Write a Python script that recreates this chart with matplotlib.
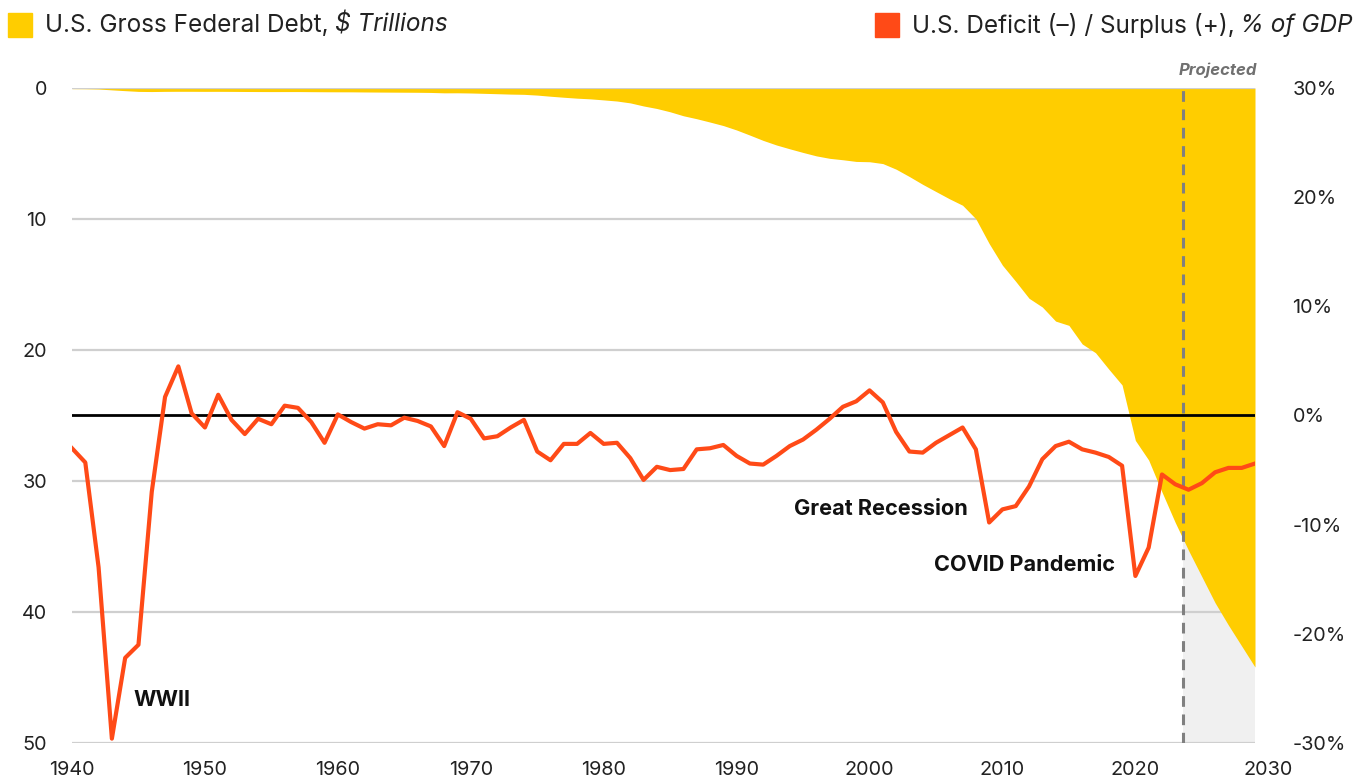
import matplotlib
matplotlib.use("Agg")
import matplotlib.pyplot as plt
import numpy as np

plt.rcParams['font.family'] = ['Inter', 'DejaVu Sans']

years = list(range(1940, 2030))

debt = [0.051, 0.058, 0.079, 0.143, 0.204, 0.260, 0.271, 0.257, 0.252, 0.253,
        0.257, 0.255, 0.259, 0.266, 0.271, 0.274, 0.273, 0.272, 0.280, 0.287,
        0.291, 0.293, 0.303, 0.310, 0.316, 0.322, 0.328, 0.340, 0.369, 0.366,
        0.381, 0.408, 0.436, 0.466, 0.484, 0.542, 0.629, 0.706, 0.777, 0.829,
        0.909, 0.995, 1.137, 1.372, 1.565, 1.817, 2.121, 2.346, 2.601, 2.868,
        3.206, 3.598, 4.002, 4.351, 4.643, 4.921, 5.182, 5.369, 5.478, 5.606,
        5.629, 5.770, 6.198, 6.760, 7.355, 7.905, 8.451, 8.951, 9.986, 11.876,
        13.529, 14.764, 16.051, 16.719, 17.794, 18.120, 19.539, 20.206, 21.462, 22.669,
        26.902, 28.402, 30.839, 33.170, 35.300, 37.300, 39.300, 41.000, 42.600, 44.200]

deficit = [-3.0, -4.3, -13.9, -29.6, -22.2, -21.0, -7.0, 1.7, 4.5, 0.2,
           -1.1, 1.9, -0.4, -1.7, -0.3, -0.8, 0.9, 0.7, -0.6, -2.5,
           0.1, -0.6, -1.2, -0.8, -0.9, -0.2, -0.5, -1.0, -2.8, 0.3,
           -0.3, -2.1, -1.9, -1.1, -0.4, -3.3, -4.1, -2.6, -2.6, -1.6,
           -2.6, -2.5, -3.9, -5.9, -4.7, -5.0, -4.9, -3.1, -3.0, -2.7,
           -3.7, -4.4, -4.5, -3.7, -2.8, -2.2, -1.3, -0.3, 0.8, 1.3,
           2.3, 1.2, -1.5, -3.3, -3.4, -2.5, -1.8, -1.1, -3.1, -9.8,
           -8.6, -8.3, -6.5, -4.0, -2.8, -2.4, -3.1, -3.4, -3.8, -4.6,
           -14.7, -12.1, -5.4, -6.3, -6.8, -6.2, -5.2, -4.8, -4.8, -4.4]

xtick_years = [1940, 1950, 1960, 1970, 1980, 1990, 2000, 2010, 2020, 2030]
left_ticks = [0, 10, 20, 30, 40, 50]
right_ticks = [30, 20, 10, 0, -10, -20, -30]
projection_start = 2023.6

YELLOW = '#FFCD00'
RED = '#FF4A17'
GRID = '#CFCFCF'
TXT = '#222222'
TICK_FS = 14.3

fig = plt.figure(figsize=(13.6, 7.8), dpi=100)
ax = fig.add_axes([72/1360, 1-743/780, (1255-72)/1360, (743-88)/780])
ax2 = ax.twinx()

ax.set_xlim(1940, 2029)
ax.set_ylim(50, 0)
ax2.set_ylim(-30, 30)

# projected background
ax.axvspan(projection_start, 2029, color='#F0F0F0', zorder=0, lw=0)
# gridlines
for t in left_ticks:
    ax.axhline(t, color=GRID, lw=1.6, zorder=1 if t != 0 else 4)
# debt area
ax.fill_between(years, 0, debt, color=YELLOW, lw=0, zorder=2)
# projected line
ax.axvline(projection_start, color='#808080', lw=2.2, ls=(0, (3.5, 2.5)), zorder=5)

# deficit line
ax2.axhline(0, color='black', lw=2.0, zorder=3)
ax2.plot(years, deficit, color=RED, lw=3.0, zorder=4, solid_joinstyle='round')

for s in list(ax.spines.values()) + list(ax2.spines.values()):
    s.set_visible(False)

ax.set_yticks(left_ticks)
ax.set_yticklabels([str(t) for t in left_ticks])
ax.tick_params(axis='y', length=0, pad=18, labelsize=TICK_FS, labelcolor=TXT)
ax2.set_yticks(right_ticks)
ax2.set_yticklabels([f"{t}%" for t in right_ticks])
ax2.tick_params(axis='y', length=0, pad=27, labelsize=TICK_FS, labelcolor=TXT)
ax2.set_zorder(ax.get_zorder() + 1)
ax2.patch.set_visible(False)

ax.set_xticks(xtick_years[:-1])
ax.set_xticklabels([str(y) for y in xtick_years[:-1]])
ax.tick_params(axis='x', length=0, pad=13, labelsize=TICK_FS, labelcolor=TXT)

# last year label beyond the x-limit, aligned with the other tick labels
fig.canvas.draw()
renderer = fig.canvas.get_renderer()
bb = ax.get_xticklabels()[0].get_window_extent(renderer)
yfig = bb.y1 / fig.bbox.height
xfig = ax.transData.transform((xtick_years[-1], 0))[0] / fig.bbox.width
fig.text(xfig, yfig, str(xtick_years[-1]), ha='center', va='top', fontsize=TICK_FS, color=TXT)

# annotations
ANN_FS = 15.6
ax2.text(1944.6, -26.1, 'WWII', fontsize=ANN_FS, fontweight='bold', color='#111111', va='center', ha='left')
ax2.text(2007.4, -8.6, 'Great Recession', fontsize=ANN_FS, fontweight='bold', color='#111111', va='center', ha='right')
ax2.text(2018.5, -13.7, 'COVID Pandemic', fontsize=ANN_FS, fontweight='bold', color='#111111', va='center', ha='right')
ax.text(2026.2, 1.016, 'Projected', transform=ax.get_xaxis_transform(),
        fontsize=12, fontweight='bold', style='italic', color='#707070', ha='center', va='bottom')

# legend
def legend_item(x0_px, y_px, color, normal, italic, align='left'):
    H = fig.bbox.height
    W = fig.bbox.width
    t1 = fig.text(0, y_px / H, normal, fontsize=17.5, color=TXT, va='center', ha='left')
    t2 = fig.text(0, y_px / H, italic, fontsize=17.5, color=TXT, va='center', ha='left', style='italic')
    w1 = t1.get_window_extent(renderer).width
    w2 = t2.get_window_extent(renderer).width
    gap = 6
    if align == 'left':
        tx = x0_px
    else:
        tx = x0_px - w1 - gap - w2
    t1.set_x(tx / W)
    t2.set_x((tx + w1 + gap) / W)
    sq = 24
    fig.patches.append(plt.Rectangle(((tx - 13 - sq) / W, (y_px - sq / 2) / H), sq / W, sq / H,
                                     transform=fig.transFigure, color=color, figure=fig))

legend_item(45, 780 - 25, YELLOW, 'U.S. Gross Federal Debt,', '$ Trillions', 'left')
legend_item(1353, 780 - 25, RED, 'U.S. Deficit (–) / Surplus (+),', '% of GDP', 'right')

fig.savefig('out.png', dpi=100)
